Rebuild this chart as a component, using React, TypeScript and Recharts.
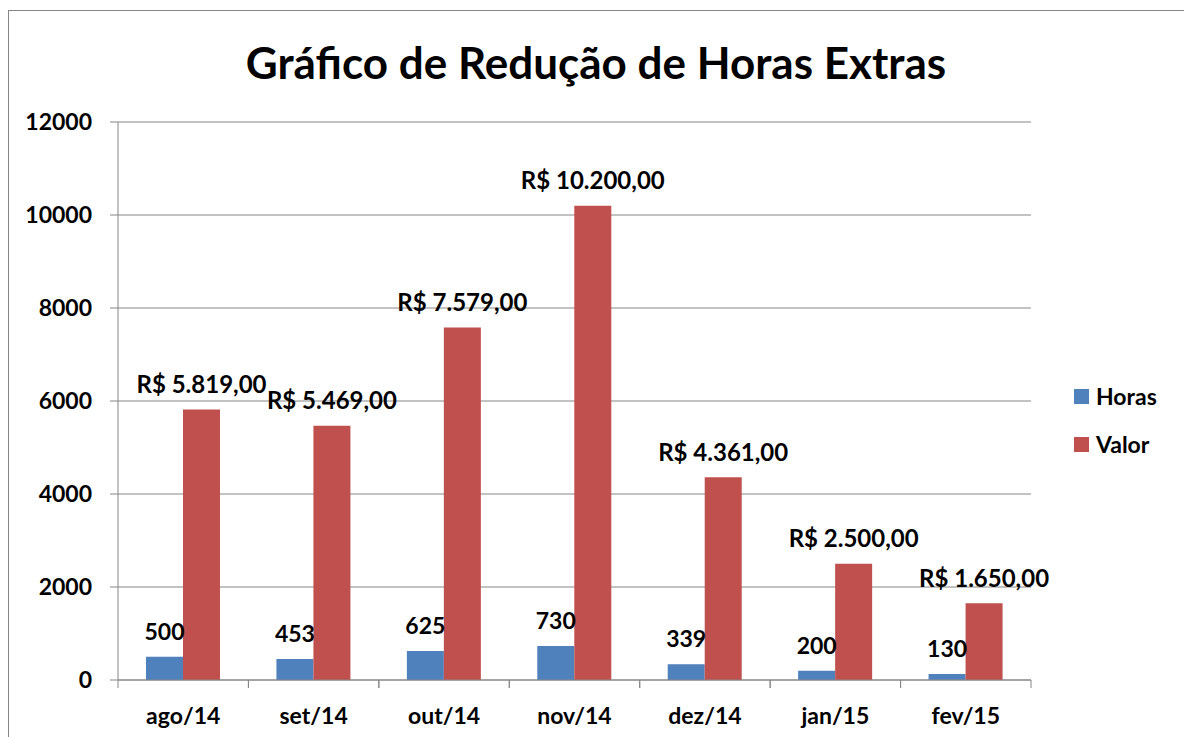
import { BarChart, Bar, XAxis, YAxis, CartesianGrid, LabelList } from "recharts";

const meses = ["ago/14", "set/14", "out/14", "nov/14", "dez/14", "jan/15", "fev/15"];
const horas = [500, 453, 625, 730, 339, 200, 130];
const valor = [5819, 5469, 7579, 10200, 4361, 2500, 1650];
const yTicks = [0, 2000, 4000, 6000, 8000, 10000, 12000];

const data = meses.map((mes, i) => ({ mes, Horas: horas[i], Valor: valor[i] }));

const FONT = "Lato, 'Open Sans', sans-serif";
const GRAY = "#868686";
const W = 1176;
const H = 729;
const LEFT = 110;
const RIGHT = 153;
const BAND = (W - LEFT - RIGHT) / meses.length;

const formatReal = (v: number) =>
  "R$ " + v.toLocaleString("pt-BR", { minimumFractionDigits: 2, maximumFractionDigits: 2 });

function XTick(props: any) {
  const { x, y, payload } = props;
  return (
    <g>
      <line x1={x - BAND / 2} y1={y} x2={x - BAND / 2} y2={y + 8} stroke={GRAY} />
      <line x1={x + BAND / 2} y1={y} x2={x + BAND / 2} y2={y + 8} stroke={GRAY} />
      <text x={x} y={y + 35} textAnchor="middle" dominantBaseline="central" fontFamily={FONT} fontWeight="bold" fontSize={23} fill="#000">
        {payload.value}
      </text>
    </g>
  );
}

function TopLabel(props: any) {
  const { x, y, width, value, format } = props;
  return (
    <text x={x + width / 2} y={y - 26} textAnchor="middle" dominantBaseline="central" fontFamily={FONT} fontWeight="bold" fontSize={format ? 24 : 23} fill="#000">
      {format ? format(value) : value}
    </text>
  );
}

function LegendBox() {
  const items = [
    { name: "Horas", color: "#4F81BD" },
    { name: "Valor", color: "#C0504D" },
  ];
  return (
    <div style={{ position: "absolute", left: 1074, top: 372, fontFamily: FONT, fontWeight: "bold", fontSize: 23 }}>
      {items.map((it) => (
        <div key={it.name} style={{ display: "flex", alignItems: "center", height: 48 }}>
          <span style={{ width: 15, height: 15, background: it.color, marginRight: 7 }} />
          {it.name}
        </div>
      ))}
    </div>
  );
}

export default function App() {
  return (
    <div style={{ position: "absolute", left: 0, top: 0, width: 1184, height: 737, overflow: "hidden", background: "#fff" }}>
      <div style={{ position: "absolute", left: 8, top: 10, width: 1200, height: 760, border: "1px solid " + GRAY }} />
      <div
        style={{
          position: "absolute",
          left: 0,
          top: 36,
          width: 1192,
          textAlign: "center",
          fontFamily: FONT,
          fontWeight: "bold",
          fontSize: 44,
        }}
      >
        Gráfico de Redução de Horas Extras
      </div>
      <div style={{ position: "absolute", left: 8, top: 8 }}>
        <BarChart width={W} height={H} data={data} margin={{ top: 114, right: RIGHT, left: 0, bottom: 0 }} barCategoryGap={28} barGap={0}>
          <CartesianGrid vertical={false} stroke={GRAY} />
          <XAxis dataKey="mes" height={57} axisLine={{ stroke: GRAY }} tickLine={false} tickSize={0} tickMargin={0} tick={<XTick />} interval={0} />
          <YAxis
            width={LEFT}
            domain={[0, 12000]}
            ticks={yTicks}
            axisLine={{ stroke: GRAY }}
            tickLine={{ stroke: GRAY }}
            tickSize={8}
            tickMargin={18}
            tick={{ fontFamily: FONT, fontWeight: "bold", fontSize: 23, fill: "#000" }}
          />
          <Bar dataKey="Horas" fill="#4F81BD" isAnimationActive={false}>
            <LabelList dataKey="Horas" content={<TopLabel />} />
          </Bar>
          <Bar dataKey="Valor" fill="#C0504D" isAnimationActive={false}>
            <LabelList dataKey="Valor" content={<TopLabel format={formatReal} />} />
          </Bar>
        </BarChart>
      </div>
      <LegendBox />
    </div>
  );
}
